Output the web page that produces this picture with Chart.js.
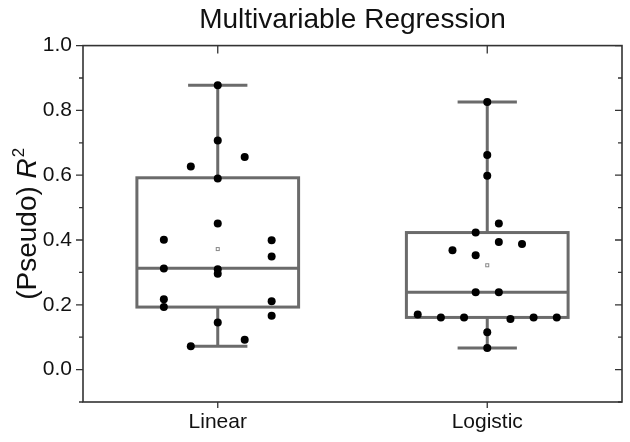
<!DOCTYPE html>
<html>
<head>
<meta charset="utf-8">
<script src="https://cdn.jsdelivr.net/npm/chart.js@4/dist/chart.umd.min.js"></script>
<style>
  html, body { margin: 0; padding: 0; background: #fff; }
  #wrap { width: 630px; height: 442px; }
</style>
</head>
<body>
<div id="wrap"><canvas id="chart" width="630" height="442"></canvas></div>
<script>
const categories = ["Linear", "Logistic"];
const yTicks = [0, 0.2, 0.4, 0.6, 0.8, 1.0];
const yMinor = [-0.1, 0.1, 0.3, 0.5, 0.7, 0.9];

// box stats per category
const whiskerLow  = [0.072, 0.067];
const boxQ1       = [0.193, 0.161];
const boxMedian   = [0.313, 0.239];
const boxQ3       = [0.592, 0.423];
const whiskerHigh = [0.878, 0.826];
const boxMean     = [0.372, 0.322];

// raw points (value + horizontal jitter in category units)
const linearValues  = [0.878, 0.707, 0.627, 0.656, 0.590, 0.451, 0.401, 0.399, 0.349, 0.312,
                       0.310, 0.296, 0.217, 0.193, 0.211, 0.166, 0.145, 0.072, 0.092];
const linearJitter  = [0, 0, -0.1, 0.1, 0, 0, -0.2, 0.2, 0.2, -0.2,
                       0, 0, -0.2, -0.2, 0.2, 0.2, 0, -0.1, 0.1];
const logisticValues = [0.826, 0.662, 0.598, 0.451, 0.423, 0.394, 0.388, 0.368, 0.353, 0.239,
                        0.239, 0.170, 0.161, 0.161, 0.161, 0.161, 0.156, 0.115, 0.067];
const logisticJitter = [0, 0, 0, 1, -1, 1, 3, -3, -1, -1,
                        1, -6, -4, -2, 4, 6, 2, 0, 0].map(v => v * 0.043);

const BOX_W = 0.6, CAP_W = 0.11;
const FONT = "'Liberation Sans', Arial, sans-serif";

function pts(values, jitter, idx) {
  return values.map((v, i) => ({ x: idx + jitter[i], y: v }));
}

/* box + whiskers + mean, drawn under the points */
const boxPlugin = {
  id: "boxes",
  beforeDatasetsDraw(chart) {
    const { ctx, scales: { x, y } } = chart;
    ctx.save();
    ctx.lineCap = "butt";
    categories.forEach((c, i) => {
      const xl = x.getPixelForValue(i - BOX_W / 2), xr = x.getPixelForValue(i + BOX_W / 2);
      const xc = x.getPixelForValue(i);
      const cl = x.getPixelForValue(i - CAP_W), cr = x.getPixelForValue(i + CAP_W);
      const q1 = y.getPixelForValue(boxQ1[i]), q3 = y.getPixelForValue(boxQ3[i]);
      const md = y.getPixelForValue(boxMedian[i]);
      const lo = y.getPixelForValue(whiskerLow[i]), hi = y.getPixelForValue(whiskerHigh[i]);
      ctx.strokeStyle = "#6b6b6b";
      ctx.lineWidth = 3;
      ctx.strokeRect(xl, q3, xr - xl, q1 - q3);
      ctx.beginPath();
      ctx.moveTo(xl, md); ctx.lineTo(xr, md);
      ctx.moveTo(xc, q3); ctx.lineTo(xc, hi);
      ctx.moveTo(xc, q1); ctx.lineTo(xc, lo);
      ctx.moveTo(cl, hi); ctx.lineTo(cr, hi);
      ctx.moveTo(cl, lo); ctx.lineTo(cr, lo);
      ctx.stroke();
      // mean marker
      const my = y.getPixelForValue(boxMean[i]);
      ctx.lineWidth = 1;
      ctx.strokeStyle = "#888";
      ctx.strokeRect(xc - 1.5, my - 1.5, 3, 3);
    });
    ctx.restore();
  }
};

/* frame, tick marks and the y title */
const framePlugin = {
  id: "frame",
  afterDraw(chart) {
    const { ctx, chartArea: a, scales: { x, y } } = chart;
    ctx.save();
    ctx.strokeStyle = "#333";
    ctx.lineWidth = 1.6;
    ctx.strokeRect(a.left, a.top, a.right - a.left, a.bottom - a.top);
    ctx.lineWidth = 1.3;
    ctx.beginPath();
    yTicks.forEach(v => {
      const py = y.getPixelForValue(v);
      ctx.moveTo(a.left - 7, py); ctx.lineTo(a.left, py);
      ctx.moveTo(a.right, py); ctx.lineTo(a.right - 7, py);
    });
    yMinor.forEach(v => {
      const py = y.getPixelForValue(v);
      ctx.moveTo(a.left - 4, py); ctx.lineTo(a.left, py);
      ctx.moveTo(a.right, py); ctx.lineTo(a.right - 4, py);
    });
    categories.forEach((c, i) => {
      const px = x.getPixelForValue(i);
      ctx.moveTo(px, a.bottom); ctx.lineTo(px, a.bottom + 6);
      ctx.moveTo(px, a.top); ctx.lineTo(px, a.top + 8);
    });
    ctx.stroke();

    // "(Pseudo) R²" rotated
    const size = 28;
    const fN = `${size}px ${FONT}`, fI = `italic ${size}px ${FONT}`, fS = `${Math.round(size * 0.62)}px ${FONT}`;
    ctx.font = fN; const w1 = ctx.measureText("(Pseudo) ").width;
    ctx.font = fI; const w2 = ctx.measureText("R").width;
    ctx.font = fS; const w3 = ctx.measureText("2").width;
    const total = w1 + w2 + w3 + 1;
    ctx.translate(28, (a.top + a.bottom) / 2);
    ctx.rotate(-Math.PI / 2);
    ctx.fillStyle = "#111";
    ctx.textBaseline = "middle";
    ctx.textAlign = "left";
    let px = -total / 2;
    ctx.font = fN; ctx.fillText("(Pseudo) ", px, 0); px += w1;
    ctx.font = fI; ctx.fillText("R", px, 0); px += w2 + 1;
    ctx.font = fS; ctx.fillText("2", px, -size * 0.3);
    ctx.restore();
  }
};

new Chart(document.getElementById("chart"), {
  type: "scatter",
  data: {
    datasets: [
      { label: categories[0], data: pts(linearValues, linearJitter, 0) },
      { label: categories[1], data: pts(logisticValues, logisticJitter, 1) }
    ]
  },
  options: {
    responsive: false,
    animation: false,
    layout: { padding: { left: 0, right: 8, top: 0, bottom: 0 } },
    elements: {
      point: { radius: 4, backgroundColor: "#000", borderColor: "#000", borderWidth: 0 }
    },
    plugins: {
      legend: { display: false },
      tooltip: { enabled: false },
      title: {
        display: true,
        text: "Multivariable Regression",
        fullSize: false,
        color: "#111",
        font: { family: FONT, size: 28, weight: "normal", lineHeight: 1.2 },
        padding: { top: 3, bottom: 9 }
      }
    },
    scales: {
      x: {
        type: "linear",
        min: -0.5, max: 1.5,
        afterBuildTicks: s => { s.ticks = categories.map((c, i) => ({ value: i })); },
        afterFit: s => { s.height = 40; },
        grid: { display: false },
        border: { display: false },
        ticks: {
          color: "#111",
          padding: 0,
          maxRotation: 0,
          font: { family: FONT, size: 21 },
          callback: v => categories[v] ?? ""
        }
      },
      y: {
        min: -0.1, max: 1.0,
        afterBuildTicks: s => { s.ticks = yTicks.map(v => ({ value: v })); },
        afterFit: s => { s.width = 83; },
        grid: { display: false },
        border: { display: false },
        ticks: {
          color: "#111",
          padding: 3,
          font: { family: FONT, size: 21 },
          callback: v => Number(v).toFixed(1)
        }
      }
    }
  },
  plugins: [boxPlugin, framePlugin]
});
</script>
</body>
</html>
